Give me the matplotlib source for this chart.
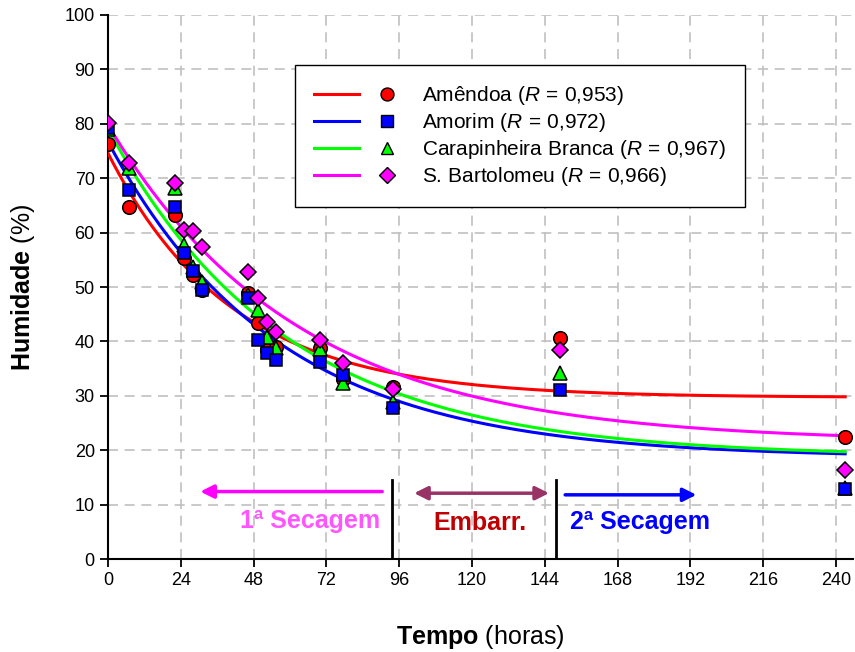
import numpy as np
import matplotlib
matplotlib.use("Agg")
import matplotlib.pyplot as plt
from matplotlib.lines import Line2D
from matplotlib.legend_handler import HandlerTuple

plt.rcParams['font.family'] = ['Liberation Sans', 'DejaVu Sans']
plt.rcParams['mathtext.fontset'] = 'custom'
plt.rcParams['mathtext.rm'] = 'Liberation Sans'
plt.rcParams['mathtext.it'] = 'Liberation Sans:italic'
plt.rcParams['mathtext.bf'] = 'Liberation Sans:bold'

# tempos de medição (horas)
tempo = [0, 7, 22, 25, 28, 31, 46, 49.5, 52.5, 55.5, 70, 77.5, 94, 149, 243]

# humidade (%) por variedade
amendoa = [76.3, 64.7, 63.2, 55.3, 52.2, 49.5, 48.9, 43.4, 38.5, 39.0, 38.8, 33.0, 31.6, 40.6, 22.4]
amorim = [79.2, 67.8, 64.7, 56.2, 53.0, 49.4, 48.0, 40.3, 37.9, 36.6, 36.2, 33.8, 27.8, 31.1, 12.8]
carapinheira = [79.0, 71.9, 68.2, 57.7, 53.7, 50.9, 48.5, 45.8, 40.8, 38.8, 38.6, 32.4, 28.9, 34.2, 13.1]
bartolomeu = [80.1, 72.8, 69.1, 60.5, 60.3, 57.4, 52.8, 48.0, 43.6, 41.7, 40.3, 36.1, 31.2, 38.4, 16.4]

# curvas ajustadas: y = a + b*exp(-k*t)  (parâmetros)
assintota = [29.7, 18.6, 18.8, 21.5]
amplitude = [44.9, 58.1, 60.3, 58.3]
taxa = [0.0245, 0.01795, 0.0172, 0.0161]

nomes = ["Amêndoa", "Amorim", "Carapinheira Branca", "S. Bartolomeu"]
r_vals = ["0{,}953", "0{,}972", "0{,}967", "0{,}966"]
cores = ["#FF0000", "#0000FF", "#00FF00", "#FF00FF"]
marcadores = ["o", "s", "^", "D"]
tamanhos = [9.8, 8.8, 9.8, 8.3]

series = [amendoa, amorim, carapinheira, bartolomeu]

fig = plt.figure(figsize=(8.55, 6.52), dpi=100)
ax = fig.add_axes([0.1263, 0.1426, 0.8714, 0.8344])

t_fit = np.linspace(0, 243, 400)
handles = []
for i in range(4):
    y_fit = assintota[i] + amplitude[i] * np.exp(-taxa[i] * t_fit)
    ax.plot(t_fit, y_fit, color=cores[i], lw=2.2, zorder=3)

for i in [0, 2, 1, 3]:
    ax.plot(tempo, series[i], linestyle="none", marker=marcadores[i],
            markersize=tamanhos[i], markerfacecolor=cores[i],
            markeredgecolor="black", markeredgewidth=1.1, zorder=4)

labels = []
for i in range(4):
    linha = Line2D([], [], color=cores[i], lw=2.2)
    ponto = Line2D([], [], linestyle="none", marker=marcadores[i],
                   markersize=tamanhos[i] * 0.95, markerfacecolor=cores[i],
                   markeredgecolor="black", markeredgewidth=1.0)
    handles.append((linha, ponto))
    labels.append(nomes[i] + r" $\mathit{(R\,=\," + r_vals[i] + ")}$")

leg = ax.legend(handles, labels, handler_map={tuple: HandlerTuple(ndivide=None, pad=0.3)},
                loc="upper left", bbox_to_anchor=(0.251, 0.908), borderaxespad=0,
                fontsize=15, handlelength=4.6, handletextpad=0.6, labelspacing=0.2,
                borderpad=0.9, fancybox=False, framealpha=1, edgecolor="black")
leg.get_frame().set_linewidth(1.0)
leg.set_zorder(5)

# setas das fases
ax.annotate("", xy=(29.5, 12.4), xytext=(91.3, 12.4),
            arrowprops=dict(arrowstyle="-|>", color="#FF00FF", lw=2.5, mutation_scale=20))
ax.annotate("", xy=(100, 12.1), xytext=(146.3, 12.1),
            arrowprops=dict(arrowstyle="<|-|>", color="#993366", lw=2.5, mutation_scale=20))
ax.annotate("", xy=(194.9, 11.8), xytext=(149.8, 11.8),
            arrowprops=dict(arrowstyle="-|>", color="#0000FF", lw=2.5, mutation_scale=20))

ax.plot([93.5, 93.5], [0, 14.5], color="black", lw=2, zorder=3)
ax.plot([147.8, 147.8], [0, 14.5], color="black", lw=2, zorder=3)

ax.text(66.5, 7.0, "1ª Secagem", color="#FF55FF", fontsize=18, fontweight="bold",
        ha="center", va="center")
ax.text(122.5, 6.6, "Embarr.", color="#C00000", fontsize=18, fontweight="bold",
        ha="center", va="center")
ax.text(175.5, 6.8, "2ª Secagem", color="#0000FF", fontsize=18, fontweight="bold",
        ha="center", va="center")

ax.set_xlim(0, 245.6)
ax.set_ylim(0, 100)
ax.set_xticks(np.arange(0, 241, 24))
ax.set_yticks(np.arange(0, 101, 10))
ax.tick_params(labelsize=13, direction="out", length=6, width=1.3)
ax.grid(True, color="#C0C0C0", linestyle=(0, (6, 4)), lw=1.2, zorder=0)
ax.set_axisbelow(True)
for s in ["top", "right"]:
    ax.spines[s].set_visible(False)
for s in ["left", "bottom"]:
    ax.spines[s].set_linewidth(1.5)

ax.set_xlabel(r"$\mathbf{Tempo}$ (horas)", fontsize=18, labelpad=24)
ax.set_ylabel(r"$\mathbf{Humidade}$ (%)", fontsize=18, labelpad=20)

fig.savefig("out.png", dpi=100)
